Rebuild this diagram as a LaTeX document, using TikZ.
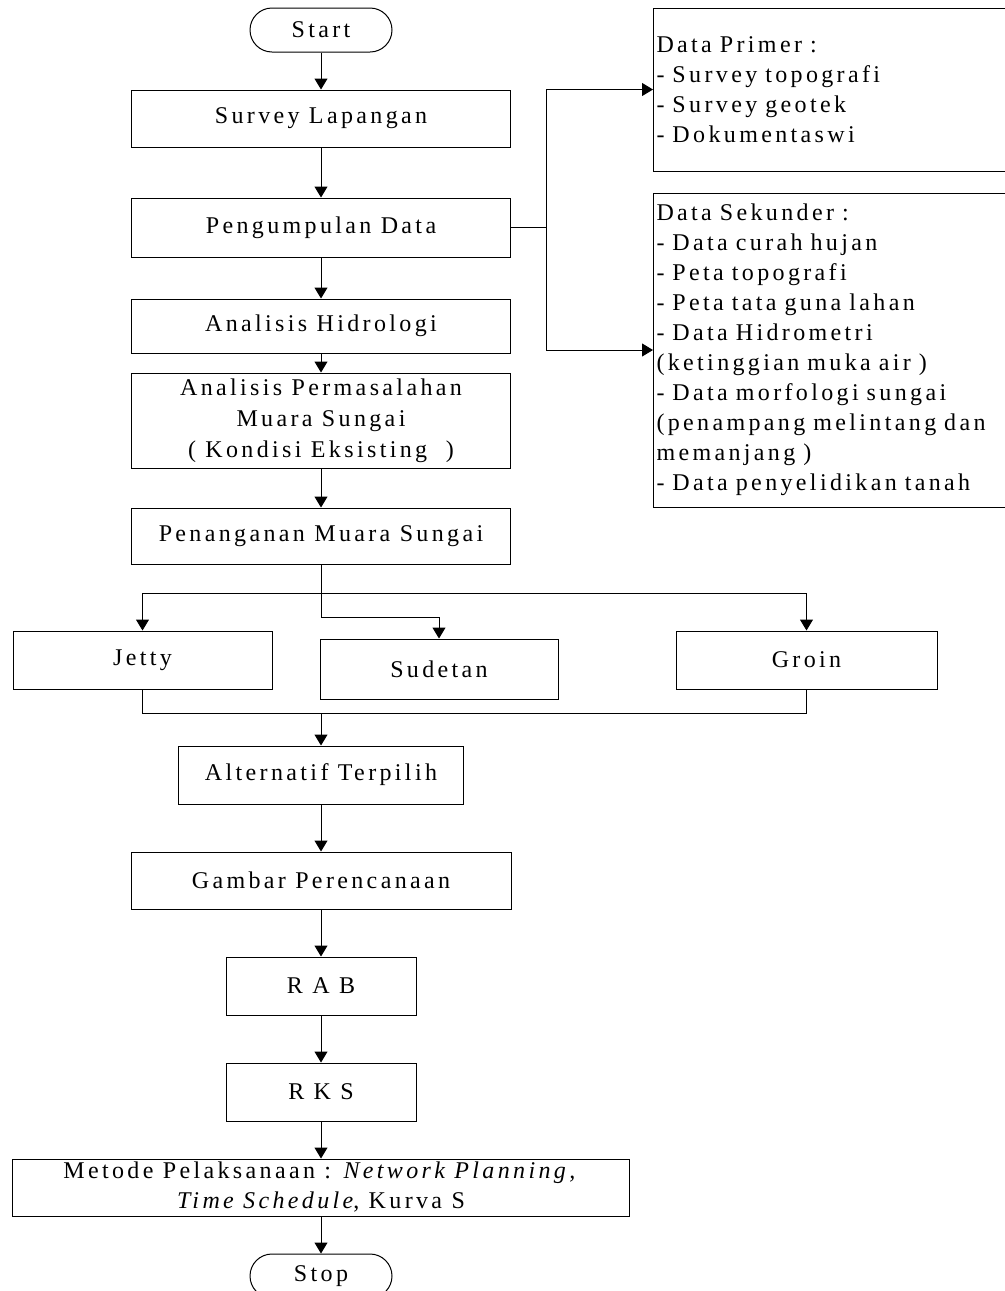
\documentclass[tikz,border=0pt]{standalone}
\usepackage{fontspec}
\setmainfont{Liberation Serif}[LetterSpace=14]
\usepackage{tikz}
\usetikzlibrary{arrows.meta, positioning, calc}

\begin{document}
\begin{tikzpicture}[x=0.5pt,y=-0.5pt,
    line width=0.5pt,
    txt/.style={font=\fontsize{12pt}{15pt}\selectfont},
    box/.style={draw, rectangle, inner sep=0pt, align=center, txt},
    term/.style={box, rounded corners=11pt, minimum width=71pt, minimum height=22pt},
    databox/.style={draw, rectangle, inner xsep=1.5pt, inner ysep=0pt, text width=176pt, align=left, anchor=west, txt},
    arr/.style={-{Triangle[length=5.5pt,width=6.5pt]}}]
          \useasboundingbox (0,0) rectangle (1005,1291);
          % main column
          \node[term](start)at(321,30){Start};
          \node[box,minimum width=189.5pt,minimum height=28.5pt](survey)at(321,118.5){Survey Lapangan};
          \node[box,minimum width=189.5pt,minimum height=29.5pt](kumpul)at(321,227.5){Pengumpulan Data};
          \node[box,minimum width=189.5pt,minimum height=27pt](hidro)at(321,326){Analisis Hidrologi};
          \node[box,minimum width=189.5pt,minimum height=47.5pt,font=\fontsize{12pt}{15.5pt}\selectfont](masalah)at(321,420.5)
               {Analisis Permasalahan\\Muara Sungai\\( Kondisi Eksisting~~)};
          \node[box,minimum width=189.5pt,minimum height=28pt](tangan)at(321,536){Penanganan Muara Sungai};
          % alternatives
          \node[box,minimum width=129.5pt,minimum height=29pt](jetty)at(142.5,660){Jetty};
          \node[box,minimum width=119pt,minimum height=30pt](sudetan)at(439,669){Sudetan};
          \node[box,minimum width=130.5pt,minimum height=29pt](groin)at(806.5,660){Groin};
          \node[box,minimum width=142.5pt,minimum height=29pt](alt)at(321,775){Alternatif Terpilih};
          \node[box,minimum width=190pt,minimum height=28.5pt](gambar)at(321,880.5){Gambar Perencanaan};
          \node[box,minimum width=95pt,minimum height=29pt](rab)at(321,986){R A B};
          \node[box,minimum width=95pt,minimum height=29pt](rks)at(321,1092){R K S};
          \node[box,minimum width=308.5pt,minimum height=28.5pt](metode)at(321,1187.5)
               {Metode Pelaksanaan : \textit{Network Planning,}\\\textit{Time Schedule}, Kurva S};
          \node[term](stop)at(321,1276){Stop};
          % data boxes
          \node[databox,minimum height=81.5pt](primer)at(653,89.5)
               {Data Primer :\\- Survey topografi\\- Survey geotek\\- Dokumentaswi};
          \node[databox,minimum height=157pt](sekunder)at(653,350)
               {Data Sekunder :\\- Data curah hujan\\- Peta topografi\\- Peta tata guna lahan\\- Data Hidrometri\\(ketinggian muka air )\\- Data morfologi sungai\\(penampang melintang dan\\memanjang )\\- Data penyelidikan tanah};
          % connectors
          \coordinate(bus)at(546,227.5);
          \coordinate(split)at(321,593);
          \coordinate(mid)at(321,617);
          \coordinate(merge)at(321,713);
          \draw[arr](start)--(survey);
          \draw[arr](survey)--(kumpul);
          \draw[arr](kumpul)--(hidro);
          \draw[arr](hidro)--(masalah);
          \draw[arr](masalah)--(tangan);
          \draw(kumpul.east)--(bus);
          \draw[arr](bus)|-(primer.west);
          \draw[arr](bus)|-(sekunder.west);
          \draw(tangan.south)--(split);
          \draw[arr](split)-|(jetty.north);
          \draw[arr](split)-|(groin.north);
          \draw[arr](split)--(mid)-|(sudetan.north);
          \draw(jetty.south)|-(merge);
          \draw(groin.south)|-(merge);
          \draw[arr](merge)--(alt.north);
          \draw[arr](alt)--(gambar);
          \draw[arr](gambar)--(rab);
          \draw[arr](rab)--(rks);
          \draw[arr](rks)--(metode);
          \draw[arr](metode)--(stop);
\end{tikzpicture}
\end{document}
